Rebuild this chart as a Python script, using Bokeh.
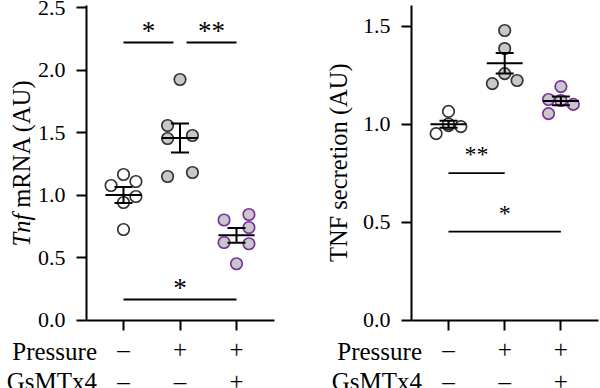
import numpy as np
from bokeh.plotting import figure
from bokeh.layouts import row
from bokeh.models import ColumnDataSource, FixedTicker, Label, LabelSet, Range1d, PrintfTickFormatter
from bokeh.embed import file_html
from bokeh.resources import INLINE

# ---------------- data ----------------
groups = [0, 1, 2]
pressure_row = ["–", "+", "+"]
gsmtx4_row = ["–", "–", "+"]
row_names = ["Pressure", "GsMTx4"]

tnf_mrna_ctrl = [1.076, 1.164, 1.108, 0.988, 0.940, 0.724]
tnf_mrna_press = [1.924, 1.556, 1.452, 1.476, 1.148, 1.180]
tnf_mrna_gsm = [0.800, 0.844, 0.740, 0.620, 0.610, 0.450]

tnf_sec_ctrl = [1.064, 0.951, 0.987, 0.992, 1.000]
tnf_sec_press = [1.477, 1.385, 1.257, 1.206, 1.222]
tnf_sec_gsm = [1.191, 1.125, 1.120, 1.100, 1.053]

mrna_ticks = [0.0, 0.5, 1.0, 1.5, 2.0, 2.5]
sec_ticks = [0.0, 0.5, 1.0, 1.5]

# significance brackets
mrna_sig_x0 = [0.0, 1.115, 0.0]
mrna_sig_x1 = [0.885, 2.0, 2.0]
mrna_sig_y = [2.22, 2.22, 0.164]
mrna_sig_text = ["*", "**", "*"]

sec_sig_x0 = [0.0, 0.0]
sec_sig_x1 = [1.0, 2.0]
sec_sig_y = [0.749, 0.451]
sec_sig_text = ["**", "*"]

# ---------------- layout / style ----------------
FONT = "Liberation Serif"
D = 0.22  # beeswarm spread (layout only)
mrna_offsets = [[-D, 0, D, D, 0, 0], [0, -D, -D, D, -D, D], [-D, D, D, -D, D, 0]]
sec_offsets = [[0, -D, D, 0, 0], [0, 0, 0, -D, D], [0, -D, 0, D, -D]]
fills = ["white", "#c8c8c8", "#c8c8c8"]
edges = ["#333333", "#333333", "#7b2f9c"]
W, H = 300, 388
Y0_PX = 319.5      # pixel row of y = 0
TOP_PX = 5.0       # top end of y axis line


def panel(series, offsets, ticks, x0_px, xppu, yppu, axis_px, right_px,
          sx0, sx1, sy, stext, star_px, star_size):
    # full-canvas frame, axes placed with fixed_location
    p = figure(width=W, height=H, output_backend="svg", toolbar_location=None,
               title_location=None,
               x_range=Range1d(-x0_px / xppu, (W - x0_px) / xppu),
               y_range=Range1d(-(H - Y0_PX) / yppu, Y0_PX / yppu),
               min_border_left=0, min_border_right=0, min_border_top=0, min_border_bottom=0)
    p.outline_line_color = None
    p.grid.visible = False
    p.background_fill_color = "white"
    p.border_fill_color = "white"

    xa = (axis_px - x0_px) / xppu
    xb = (right_px - x0_px) / xppu
    ytop = (Y0_PX - TOP_PX) / yppu

    # points
    for g, (vals, offs) in enumerate(zip(series, offsets)):
        xs = [groups[g] + o for o in offs]
        p.scatter(xs, vals, size=11.5, fill_color=fills[g], line_color=edges[g], line_width=1.7)

    # mean +/- SEM
    for g, vals in enumerate(series):
        v = np.array(vals)
        m = v.mean()
        s = v.std(ddof=1) / np.sqrt(len(v))
        x = groups[g]
        p.segment([x - 0.32], [m], [x + 0.32], [m], line_color="black", line_width=2)
        p.segment([x - 0.16, x - 0.16], [m - s, m + s], [x + 0.16, x + 0.16], [m - s, m + s],
                  line_color="black", line_width=2)
        p.segment([x], [m - s], [x], [m + s], line_color="black", line_width=2)

    # significance
    p.segment(sx0, sy, sx1, sy, line_color="black", line_width=1.8)
    src = ColumnDataSource(dict(x=[(a + b) / 2 for a, b in zip(sx0, sx1)],
                                y=[y + star_px / yppu for y in sy], t=stext))
    p.add_layout(LabelSet(x="x", y="y", text="t", source=src, text_align="center",
                          text_baseline="alphabetic", text_font=FONT,
                          text_font_size=star_size, text_color="black"))

    # axes
    for ax in (p.xaxis[0], p.yaxis[0]):
        ax.axis_line_width = 2
        ax.major_tick_line_width = 2
        ax.major_tick_in = 0
        ax.major_tick_out = 10
        ax.minor_tick_line_color = None
        ax.major_label_text_font = FONT
        ax.major_label_text_color = "black"
    p.yaxis.fixed_location = xa
    p.yaxis.bounds = (0, ytop)
    p.yaxis.ticker = FixedTicker(ticks=ticks)
    p.yaxis.formatter = PrintfTickFormatter(format="%.1f")
    p.yaxis.major_label_text_font_size = "22px"
    p.yaxis.major_label_standoff = 11
    p.xaxis.fixed_location = 0
    p.xaxis.bounds = (xa, xb)
    p.xaxis.ticker = FixedTicker(ticks=groups)
    p.xaxis.major_label_overrides = {g: t for g, t in zip(groups, pressure_row)}
    p.xaxis.major_label_text_font_size = "25px"
    p.xaxis.major_label_standoff = 6

    # second row of condition labels
    row2_y = -(381 - Y0_PX) / yppu
    src2 = ColumnDataSource(dict(x=groups, y=[row2_y] * 3, t=gsmtx4_row))
    p.add_layout(LabelSet(x="x", y="y", text="t", source=src2, text_align="center",
                          text_baseline="middle", text_font=FONT, text_font_size="25px",
                          text_color="black"))
    name_x = -26.5 / xppu
    for nm, ypx in zip(row_names, [351, 381]):
        p.add_layout(Label(x=name_x, y=-(ypx - Y0_PX) / yppu, text=nm, text_align="right",
                           text_baseline="middle", text_font=FONT, text_font_size="25px",
                           text_color="black"))
    return p


def ylabel(p, parts, styles, widths, gap, center_px, x0_px, xppu, yppu, size):
    lx = (center_px - x0_px) / xppu
    total = sum(widths) + gap * (len(parts) - 1)
    mid_px = (TOP_PX + Y0_PX) / 2
    start_px = mid_px + total / 2  # bottom end of rotated text (pixels from top)
    for txt, st, w in zip(parts, styles, widths):
        p.add_layout(Label(x=lx, y=(Y0_PX - start_px) / yppu, text=txt, angle=np.pi / 2,
                           text_align="left", text_baseline="middle", text_font=FONT,
                           text_font_size=size, text_font_style=st, text_color="black"))
        start_px -= w + gap


p1 = panel([tnf_mrna_ctrl, tnf_mrna_press, tnf_mrna_gsm], mrna_offsets, mrna_ticks,
           123.0, 56.5, 125.0, 86.0, 274.0,
           mrna_sig_x0, mrna_sig_x1, mrna_sig_y, mrna_sig_text, 3, "27px")
ylabel(p1, ["Tnf", "mRNA (AU)"], ["italic", "normal"], [1.334 * 24.5, 5.249 * 24.5], 6.0,
       21.0, 123.0, 56.5, 125.0, "24.5px")

p2 = panel([tnf_sec_ctrl, tnf_sec_press, tnf_sec_gsm], sec_offsets, sec_ticks,
           148.0, 56.2, 196.0, 111.0, 298.0,
           sec_sig_x0, sec_sig_x1, sec_sig_y, sec_sig_text, 11, "24px")
ylabel(p2, ["TNF secretion (AU)"], ["normal"], [8.109 * 24.5], 0.0,
       38.0, 148.0, 56.2, 196.0, "24.5px")

layout = row(p1, p2)
open("out.html", "w").write(file_html(layout, INLINE))
